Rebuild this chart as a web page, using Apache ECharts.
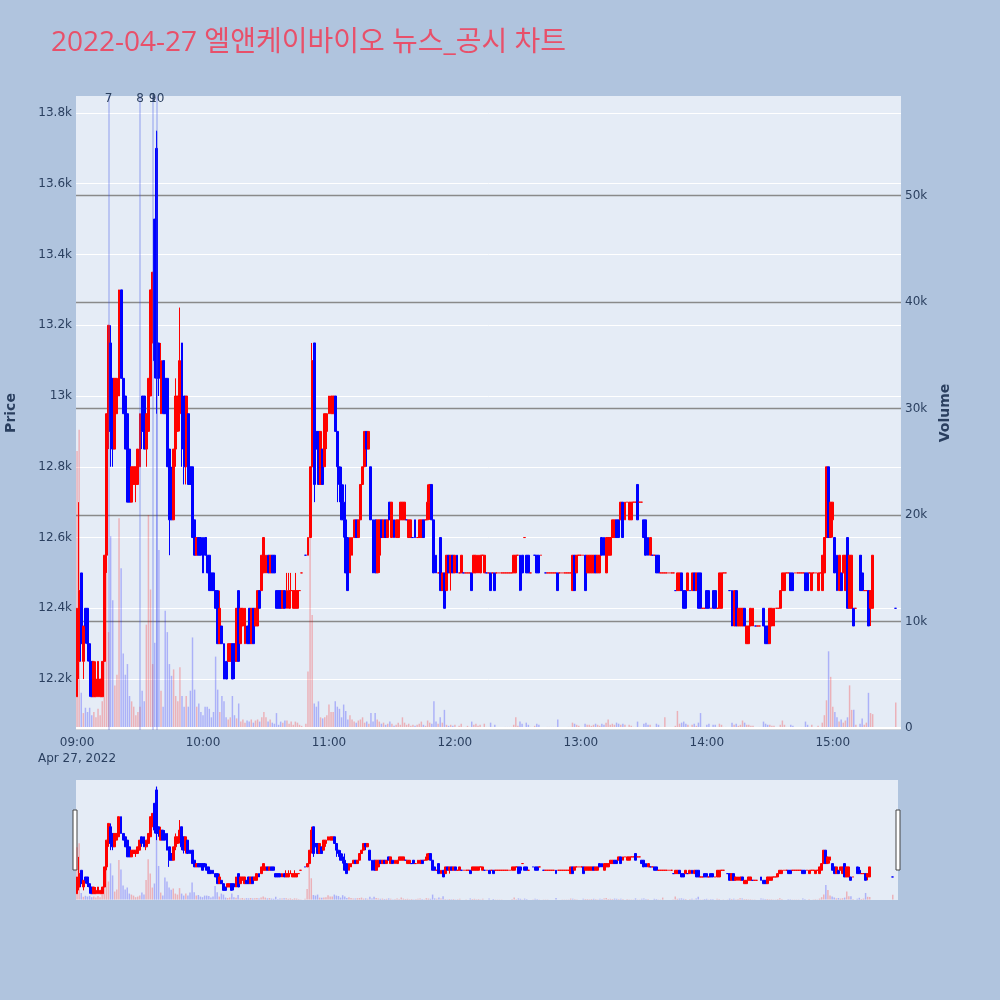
<!DOCTYPE html>
<html>
<head>
<meta charset="utf-8">
<script src="https://cdn.jsdelivr.net/npm/echarts@6/dist/echarts.min.js"></script>
<style>
html, body { margin: 0; padding: 0; background: #b0c4de; }
#chart { width: 1000px; height: 1000px; }
</style>
</head>
<body>
<div id="chart"></div>
<script>
// minute labels 09:00 .. 15:32
var times = [];
for (var t = 9 * 60; t <= 15 * 60 + 32; t++) {
    var hh = Math.floor(t / 60), mm = t % 60;
    times.push((hh < 10 ? '0' : '') + hh + ':' + (mm < 10 ? '0' : '') + mm);
}

// 1-minute candles [open, close, low, high], null = no trade
var candles = [
    // 09:00
    [12150,12400,12150,12400],[12250,12450,12200,12700],[12500,12300,12250,12500],[12250,12350,12200,12350],[12400,12350,12300,12400],
    [12400,12300,12250,12400],[12300,12250,12150,12300],[12250,12150,12150,12250],[12150,12250,12150,12250],[12150,12200,12150,12250],
    // 09:10
    [12150,12250,12150,12250],[12150,12200,12150,12200],[12150,12250,12150,12250],[12250,12550,12250,12550],[12550,12950,12500,12950],
    [12900,13200,12850,13200],[13150,12900,12800,13200],[13050,12850,12800,13050],[12850,13050,12850,13050],[12950,13050,12950,13050],
    // 09:20
    [13000,13300,13000,13300],[13300,13050,13050,13300],[13050,12950,12950,13050],[13000,12850,12850,13000],[12950,12700,12700,12950],
    [12850,12700,12700,12850],[12700,12800,12700,12800],[12750,12800,12750,12800],[12750,12800,12700,12800],[12750,12850,12750,12850],
    // 09:30
    [12800,12950,12800,12950],[13000,12900,12850,13000],[13000,12850,12850,13000],[12850,12950,12800,12950],[12900,13050,12900,13050],
    [13000,13300,13000,13300],[13150,13350,13150,13350],[13500,13100,13050,13500],[13700,13050,12950,13750],[13150,13050,13000,13150],
    // 09:40
    [12950,13100,12950,13150],[13100,12950,12950,13100],[13050,12950,12950,13100],[13050,12800,12800,13050],[12850,12650,12550,12850],
    [12750,12650,12650,12800],[12650,12850,12650,12850],[12850,13000,12800,13050],[12900,13000,12900,13000],[12950,13100,12900,13250],
    // 09:50
    [13150,12850,12800,13150],[13000,12800,12750,13000],[12800,13000,12750,13000],[12950,12750,12750,12950],[12800,12750,12750,12800],
    [12800,12600,12600,12800],[12650,12550,12550,12650],[12550,12600,12550,12600],[12600,12550,12550,12600],[12600,12550,12550,12600],
    // 10:00
    [12600,12500,12500,12600],[12600,12550,12550,12600],[12550,12500,12500,12600],[12550,12450,12450,12550],[12500,12450,12450,12500],
    [12500,12450,12450,12500],[12450,12400,12400,12450],[12450,12300,12300,12450],[12300,12400,12300,12450],[12350,12300,12300,12350],
    // 10:10
    [12300,12200,12200,12300],[12250,12200,12200,12250],[12250,12300,12250,12300],[12250,12300,12250,12300],[12300,12200,12200,12300],
    [12300,12250,12200,12300],[12250,12400,12250,12400],[12450,12250,12250,12450],[12300,12400,12300,12400],[12350,12400,12350,12400],
    // 10:20
    [12300,12400,12300,12400],[12350,12300,12300,12350],[12400,12300,12300,12400],[12300,12400,12300,12400],[12400,12300,12300,12400],
    [12350,12400,12350,12400],[12350,12450,12350,12450],[12450,12400,12400,12450],[12450,12550,12450,12550],[12500,12600,12500,12600],
    // 10:30
    [12500,12550,12500,12550],[12550,12500,12500,12550],[12500,12550,12500,12550],[12550,12500,12500,12550],[12550,12500,12500,12550],
    [12450,12400,12400,12450],[12450,12400,12400,12450],[12450,12400,12400,12450],[12400,12450,12400,12450],[12450,12400,12400,12450],
    // 10:40
    [12400,12450,12400,12500],[12400,12450,12400,12500],[12450,12450,12450,12500],[12400,12450,12400,12450],[12400,12450,12400,12500],
    [12400,12450,12400,12450],[12450,12450,12450,12450],[12500,12500,12500,12500],null,[12550,12550,12550,12550],
    // 10:50
    [12550,12600,12550,12600],[12600,12800,12600,12800],[12800,13100,12750,13150],[13150,12750,12700,13150],[12900,12850,12850,12900],
    [12900,12750,12750,12900],[12750,12900,12750,12900],[12850,12750,12750,12850],[12800,12950,12800,12950],[12900,12950,12850,12950],
    // 11:00
    [12950,13000,12950,13000],[12950,13000,12950,13000],[12950,13000,12950,13000],[13000,12900,12900,13000],[12900,12800,12700,12900],
    [12800,12750,12700,12800],[12750,12650,12650,12800],[12700,12650,12600,12750],[12650,12500,12500,12750],[12600,12450,12450,12600],
    // 11:10
    [12500,12600,12500,12600],[12550,12600,12550,12600],[12600,12650,12600,12650],[12650,12600,12600,12650],[12600,12650,12600,12650],
    [12650,12750,12650,12750],[12750,12800,12750,12800],[12800,12900,12800,12900],[12900,12850,12800,12900],[12850,12900,12850,12900],
    // 11:20
    [12800,12650,12650,12800],[12650,12500,12500,12650],[12650,12500,12500,12650],[12500,12650,12500,12650],[12550,12650,12500,12650],
    [12650,12600,12600,12650],[12600,12650,12600,12650],[12650,12600,12600,12650],[12600,12650,12600,12650],[12700,12650,12650,12700],
    // 11:30
    [12600,12700,12600,12700],[12650,12600,12600,12650],[12600,12650,12600,12650],[12600,12650,12600,12650],[12650,12700,12650,12700],
    [12650,12700,12650,12700],[12650,12700,12650,12700],[12650,12650,12650,12650],[12600,12650,12600,12650],[12600,12650,12600,12650],
    // 11:40
    [12600,12600,12600,12600],[12650,12600,12600,12650],[12600,12600,12600,12600],[12600,12650,12600,12650],[12600,12650,12600,12650],
    [12650,12600,12600,12650],[12650,12650,12650,12650],[12650,12700,12650,12750],[12700,12750,12650,12750],[12750,12650,12650,12750],
    // 11:50
    [12650,12500,12500,12650],[12550,12500,12500,12550],[12500,12500,12500,12500],[12600,12450,12450,12600],[12450,12500,12450,12500],
    [12500,12400,12400,12500],[12450,12550,12450,12550],[12550,12500,12500,12550],[12500,12550,12450,12550],[12550,12500,12500,12550],
    // 12:00
    [12500,12550,12500,12550],[12550,12500,12500,12550],[12500,12500,12500,12500],[12500,12550,12500,12550],[12500,12500,12500,12500],
    [12500,12500,12500,12500],[12500,12500,12500,12500],[12500,12500,12500,12500],[12500,12450,12450,12500],[12500,12550,12500,12550],
    // 12:10
    [12500,12550,12500,12550],[12500,12550,12500,12550],[12500,12550,12500,12550],[12550,12550,12550,12550],[12500,12550,12500,12550],
    [12500,12500,12500,12500],[12500,12500,12500,12500],[12500,12450,12450,12500],[12500,12500,12500,12500],[12500,12450,12450,12500],
    // 12:20
    [12500,12500,12500,12500],[12500,12500,12500,12500],[12500,12500,12500,12500],[12500,12500,12500,12500],[12500,12500,12500,12500],
    [12500,12500,12500,12500],[12500,12500,12500,12500],[12500,12500,12500,12500],[12500,12550,12500,12550],[12500,12550,12500,12550],
    // 12:30
    [12550,12550,12550,12550],[12550,12450,12450,12550],[12550,12500,12450,12550],[12600,12600,12600,12600],[12550,12500,12500,12550],
    [12550,12500,12500,12550],[12500,12500,12500,12500],null,[12550,12550,12550,12550],[12550,12500,12500,12550],
    // 12:40
    [12550,12500,12500,12550],[12550,12550,12550,12550],null,[12500,12500,12500,12500],[12500,12500,12500,12500],
    [12500,12500,12500,12500],[12500,12500,12500,12500],[12500,12500,12500,12500],[12500,12500,12500,12500],[12500,12450,12450,12500],
    // 12:50
    [12500,12500,12500,12500],[12500,12500,12500,12500],[12500,12500,12500,12500],[12500,12500,12500,12500],[12500,12500,12500,12500],
    [12500,12500,12500,12500],[12450,12550,12450,12550],[12550,12450,12450,12550],[12500,12550,12500,12550],[12550,12550,12550,12550],
    // 13:00
    [12550,12550,12550,12550],[12550,12550,12550,12550],[12550,12450,12450,12550],[12500,12550,12500,12550],[12500,12550,12500,12550],
    [12500,12550,12500,12550],[12500,12550,12500,12550],[12550,12500,12500,12550],[12500,12550,12500,12550],[12500,12550,12500,12550],
    // 13:10
    [12600,12550,12550,12600],[12600,12550,12550,12600],[12500,12600,12500,12600],[12550,12600,12550,12600],[12550,12600,12550,12600],
    [12600,12650,12600,12650],[12600,12650,12600,12650],[12650,12600,12600,12650],[12650,12600,12600,12650],[12650,12700,12650,12700],
    // 13:20
    [12700,12600,12600,12700],[12650,12700,12650,12700],[12700,12700,12700,12700],[12650,12700,12650,12700],[12650,12700,12650,12700],
    [12700,12700,12700,12700],[12700,12700,12700,12700],[12750,12650,12650,12750],[12700,12700,12700,12700],[12700,12700,12700,12700],
    // 13:30
    [12650,12600,12600,12650],[12650,12550,12550,12650],[12600,12550,12550,12600],[12550,12600,12550,12600],[12550,12550,12550,12550],
    [12550,12550,12550,12550],[12550,12500,12500,12550],[12550,12500,12500,12550],[12500,12500,12500,12500],[12500,12500,12500,12500],
    // 13:40
    [12500,12500,12500,12500],[12500,12500,12500,12500],[12500,12500,12500,12500],[12500,12500,12500,12500],[12500,12500,12500,12500],
    [12450,12450,12450,12450],[12450,12500,12450,12500],[12450,12500,12450,12500],[12500,12450,12450,12500],[12450,12400,12400,12450],
    // 13:50
    [12450,12400,12400,12450],[12450,12500,12450,12500],[12450,12450,12450,12450],[12450,12500,12450,12500],[12500,12450,12450,12500],
    [12450,12500,12450,12500],[12500,12400,12400,12500],[12500,12400,12400,12500],[12400,12400,12400,12400],[12400,12400,12400,12400],
    // 14:00
    [12450,12400,12400,12450],[12450,12400,12400,12450],[12400,12400,12400,12400],[12450,12400,12400,12450],[12450,12400,12400,12450],
    [12400,12400,12400,12400],[12400,12500,12400,12500],[12400,12500,12400,12500],[12500,12500,12500,12500],[12500,12500,12500,12500],
    // 14:10
    null,[12450,12450,12450,12450],[12450,12350,12350,12450],[12350,12450,12350,12450],[12450,12350,12350,12450],
    [12350,12400,12350,12400],[12350,12400,12350,12400],[12350,12400,12350,12400],[12400,12350,12350,12400],[12300,12350,12300,12350],
    // 14:20
    [12300,12350,12300,12350],[12350,12400,12350,12400],[12350,12400,12350,12400],[12350,12350,12350,12350],[12350,12350,12350,12350],
    [12350,12350,12350,12350],null,[12400,12350,12350,12400],[12350,12300,12300,12350],[12350,12300,12300,12350],
    // 14:30
    [12300,12400,12300,12400],[12350,12400,12350,12400],[12350,12400,12350,12400],[12400,12400,12400,12400],[12400,12400,12400,12400],
    [12400,12450,12400,12450],[12450,12500,12450,12500],[12450,12500,12450,12500],[12500,12500,12500,12500],[12500,12500,12500,12500],
    // 14:40
    [12500,12450,12450,12500],[12500,12450,12450,12500],[12500,12500,12500,12500],[12500,12500,12500,12500],[12500,12500,12500,12500],
    [12500,12500,12500,12500],[12500,12500,12500,12500],[12500,12450,12450,12500],[12500,12450,12450,12500],[12500,12500,12500,12500],
    // 14:50
    [12450,12500,12450,12500],[12500,12500,12500,12500],[12500,12500,12500,12500],[12450,12500,12450,12500],[12500,12500,12500,12500],
    [12450,12550,12450,12550],[12500,12600,12500,12600],[12600,12800,12600,12800],[12800,12600,12600,12800],[12600,12700,12600,12700],
    // 15:00
    [12650,12700,12600,12700],[12600,12500,12500,12600],[12550,12450,12450,12550],[12450,12550,12450,12550],[12500,12450,12450,12500],
    [12500,12550,12500,12550],[12450,12550,12450,12550],[12600,12400,12400,12600],[12400,12550,12400,12550],[12400,12550,12400,12550],
    // 15:10
    [12400,12350,12350,12400],[12400,12400,12400,12400],null,[12550,12450,12450,12550],[12500,12450,12450,12550],
    [12450,12450,12450,12450],[12450,12450,12450,12450],[12450,12350,12350,12450],[12400,12450,12350,12450],[12400,12550,12400,12550],
    // 15:20 (closing auction)
    null,null,null,null,null,null,null,null,null,null,
    // 15:30
    [12400,12400,12400,12400],null,null
];

// 1-minute volume (shares)
var volumes = [
    26000,28000,3300,1400,1900,1500,1900,1200,1500,1000,
    1800,1200,2500,12000,16000,9000,18000,12000,4000,5000,
    19700,15000,7000,5000,6000,3000,2500,2000,1200,1500,
    2000,3500,2500,9700,20000,13000,6000,8000,56000,16700,
    3500,2000,11000,9000,6000,4900,5500,3000,2500,5700,
    3000,2000,3000,2000,3500,8500,3600,2000,2300,1500,
    1200,2000,2000,1800,1000,1500,6700,3600,1500,3000,
    2500,1000,800,1000,3000,1200,900,2300,600,800,
    500,700,600,800,500,700,800,600,1000,1500,
    1000,600,800,500,400,1400,300,600,500,700,
    700,400,600,300,600,500,300,200,0,400,
    5300,19500,10600,2300,2000,2500,1000,900,1000,1200,
    2200,1500,1500,2500,2000,1800,1000,2200,1600,800,
    1200,800,600,500,700,800,1000,500,600,400,
    1400,600,1400,800,600,400,500,300,400,600,
    400,200,300,500,300,1000,500,300,400,200,
    300,200,300,400,600,300,200,700,500,400,
    2500,600,400,1000,500,1700,300,200,300,200,
    300,100,200,400,100,100,200,100,600,300,
    400,200,300,100,400,100,100,500,100,300,
    100,100,100,100,100,100,100,100,300,1000,
    200,600,400,100,500,300,100,0,200,400,
    300,100,0,100,100,100,100,100,100,800,
    100,100,100,100,100,100,500,400,300,200,
    100,100,400,300,300,200,300,400,300,200,
    400,300,500,800,300,400,300,500,400,300,
    400,300,100,300,200,100,100,600,100,100,
    400,500,300,300,100,100,400,300,100,100,
    1000,100,100,100,100,200,1600,400,500,600,
    400,300,100,300,400,200,500,1400,100,100,
    300,400,100,300,300,100,400,300,100,100,
    0,100,500,300,400,200,300,700,500,300,
    300,200,200,100,100,100,0,600,400,300,
    300,200,200,100,100,300,700,300,100,100,
    300,200,100,100,100,100,100,600,300,100,
    300,100,100,200,100,500,1200,2600,7200,4800,
    2000,1500,1000,600,800,500,700,1000,4000,1700,
    1700,300,0,400,900,300,500,3300,1400,1300,
    null,null,null,null,null,null,null,null,null,null,
    2400,null,null
];

var newsTimes = ['09:15', '09:30', '09:36', '09:38'];
var newsLabels = ['7', '8', '9', '10'];
var priceTicks = [12200, 12400, 12600, 12800, 13000, 13200, 13400, 13600, 13800];
var volumeTicks = [0, 10000, 20000, 30000, 40000, 50000];

var UP = '#ff0000', DOWN = '#0000ff';
var FONT = '"DejaVu Sans", Verdana, sans-serif';
var TITLE_FONT = '"Open Sans", "Noto Sans CJK KR", sans-serif';
var INK = '#2a3f5f';

var candleData = candles.map(function (c) { return c ? c : '-'; });
var volumeData = volumes.map(function (v, i) {
    var c = candles[i];
    if (v == null || !c) return '-';
    return { value: v, itemStyle: { color: c[1] >= c[0] ? 'rgba(255,0,0,0.25)' : 'rgba(0,0,255,0.25)' } };
});

var candleStyle = { color: UP, color0: DOWN, borderColor: UP, borderColor0: DOWN, borderWidth: 1 };

var chart = echarts.init(document.getElementById('chart'));
var option = {
    backgroundColor: '#b0c4de',
    animation: false,
    textStyle: { fontFamily: FONT },
    title: {
        text: '2022-04-27 엘앤케이바이오 뉴스_공시 차트',
        left: 46, top: 24,
        textStyle: { color: '#e8506a', fontSize: 28, fontWeight: 'normal', fontFamily: TITLE_FONT }
    },
    grid: [
        { left: 76, right: 99, top: 96, height: 634, show: true, backgroundColor: '#e5ecf6', borderWidth: 0, containLabel: false, outerBoundsMode: 'none' },
        { left: 76, right: 102, top: 780, height: 120, show: true, backgroundColor: '#e5ecf6', borderWidth: 0, containLabel: false, outerBoundsMode: 'none' }
    ],
    xAxis: [
        {
            type: 'category', gridIndex: 0, data: times, boundaryGap: true,
            axisLine: { show: false }, axisTick: { show: false }, splitLine: { show: false },
            axisLabel: {
                interval: function (i) { return i % 60 === 0; },
                formatter: function (v, i) { return i === 0 ? v + '\nApr 27, 2022' : v; },
                color: INK, fontSize: 12, margin: 5, lineHeight: 16, fontFamily: FONT
            }
        },
        {
            type: 'category', gridIndex: 1, data: times, boundaryGap: true,
            axisLine: { show: false }, axisTick: { show: false }, axisLabel: { show: false }, splitLine: { show: false }
        }
    ],
    yAxis: [
        {
            type: 'value', gridIndex: 0, position: 'left', min: 12056, max: 13848,
            name: 'Price', nameLocation: 'middle', nameGap: 58, nameRotate: 90,
            nameTextStyle: { color: INK, fontSize: 14, fontWeight: 'bold', fontFamily: FONT },
            axisLine: { show: false },
            axisTick: { show: false, customValues: priceTicks },
            axisLabel: {
                customValues: priceTicks, color: INK, fontSize: 12, margin: 4, fontFamily: FONT,
                formatter: function (v) { return (v / 1000) + 'k'; }
            },
            splitLine: { show: true, lineStyle: { color: '#ffffff', width: 1 } }
        },
        {
            type: 'value', gridIndex: 0, position: 'right', min: -190, max: 59340,
            name: 'Volume', nameLocation: 'middle', nameGap: 37, nameRotate: 90,
            nameTextStyle: { color: INK, fontSize: 14, fontWeight: 'bold', fontFamily: FONT },
            axisLine: { show: false },
            axisTick: { show: false, customValues: volumeTicks },
            axisLabel: {
                customValues: volumeTicks, color: INK, fontSize: 12, margin: 4, fontFamily: FONT,
                formatter: function (v) { return v === 0 ? '0' : (v / 1000) + 'k'; }
            },
            splitLine: { show: true, lineStyle: { color: '#8a8a8a', width: 1.3 } }
        },
        { type: 'value', gridIndex: 1, min: 12056, max: 13848, show: false, splitLine: { show: false } },
        { type: 'value', gridIndex: 1, min: -190, max: 59340, show: false, splitLine: { show: false } }
    ],
    series: [
        {
            name: 'Volume', type: 'bar', xAxisIndex: 0, yAxisIndex: 1,
            data: volumeData, barWidth: '70%', z: 1,
            markLine: {
                silent: true, symbol: ['none', 'none'], label: { show: false },
                lineStyle: { color: '#ffffff', width: 2, type: 'solid' },
                data: [{ yAxis: 0 }]
            }
        },
        {
            name: 'Price', type: 'candlestick', xAxisIndex: 0, yAxisIndex: 0,
            data: candleData, barWidth: 2.4, itemStyle: candleStyle, z: 3,
            markLine: {
                silent: true, symbol: ['none', 'none'],
                lineStyle: { color: 'rgba(60,80,230,0.25)', width: 2, type: 'solid' },
                label: { show: true, position: 'end', formatter: '{b}', color: INK, fontSize: 12, distance: -9, fontFamily: FONT },
                data: newsTimes.map(function (t, i) { return { name: newsLabels[i], xAxis: t }; })
            }
        },
        {
            name: 'VolumeMini', type: 'bar', xAxisIndex: 1, yAxisIndex: 3,
            data: volumeData, barWidth: '70%', z: 1
        },
        {
            name: 'PriceMini', type: 'candlestick', xAxisIndex: 1, yAxisIndex: 2,
            data: candleData, barWidth: 2.4, itemStyle: candleStyle, z: 3
        }
    ],
    graphic: [
        { type: 'rect', shape: { x: 73, y: 810, width: 4, height: 60 }, style: { fill: '#ffffff', stroke: '#444444', lineWidth: 1 } },
        { type: 'rect', shape: { x: 896, y: 810, width: 4, height: 60 }, style: { fill: '#ffffff', stroke: '#444444', lineWidth: 1 } }
    ]
};
chart.setOption(option);
</script>
</body>
</html>
